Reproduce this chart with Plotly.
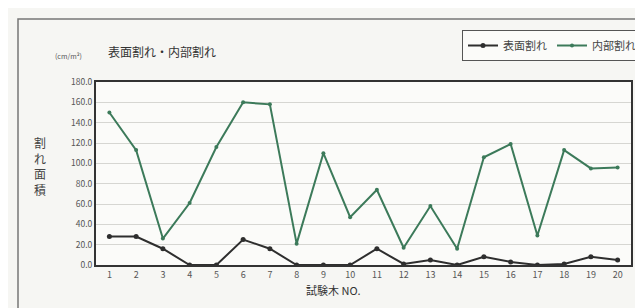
import plotly.graph_objects as go

samples = list(range(1, 21))
x_labels = [str(i) for i in samples]
surface = [28, 28, 16, 0, 0, 25, 16, 0, 0, 0, 16, 1, 5, 0, 8, 3, 0, 1, 8, 5]
internal = [150, 113, 26, 61, 116, 160, 158, 21, 110, 47, 74, 17, 58, 16, 106, 119, 29, 113, 95, 96]
y_ticks = [0, 20, 40, 60, 80, 100, 120, 140, 160, 180]

font_family = "Noto Sans CJK JP, Noto Sans, sans-serif"

fig = go.Figure()
fig.add_trace(go.Scatter(
    x=samples, y=surface, name="表面割れ", mode="lines+markers",
    line=dict(color="#2e2e2e", width=2), marker=dict(size=5, color="#2e2e2e"),
))
fig.add_trace(go.Scatter(
    x=samples, y=internal, name="内部割れ", mode="lines+markers",
    line=dict(color="#3c7a5a", width=2), marker=dict(size=4, color="#3c7a5a"),
))

fig.update_layout(
    width=643, height=308,
    margin=dict(l=88, r=20, t=74, b=51),
    paper_bgcolor="#f6f6f3", plot_bgcolor="#fbfbf9",
    font=dict(family=font_family, size=9, color="#444"),
    showlegend=True,
    legend=dict(
        orientation="h", x=634 / 643, y=1 - 22 / 308, xref="container", yref="container",
        xanchor="right", yanchor="top",
        bordercolor="#555", borderwidth=1, bgcolor="#fbfbf9",
        font=dict(size=11, color="#444"),
        itemwidth=30,
    ),
    title=dict(
        text="表面割れ・内部割れ", x=100 / 643, xanchor="left",
        y=1 - 45 / 308, yanchor="middle", font=dict(size=12, color="#333"),
    ),
    xaxis=dict(
        tickmode="array", tickvals=samples, ticktext=x_labels,
        range=[0.5, 20.5], showgrid=False, showline=True, linecolor="#333",
        linewidth=2, mirror=True, ticks="", tickfont=dict(size=9, color="#555"),
        zeroline=False,
    ),
    yaxis=dict(
        tickmode="array", tickvals=y_ticks, ticktext=[f"{v:.1f}" for v in y_ticks],
        range=[0, 180], showgrid=True, gridcolor="#d6d6d2", gridwidth=1,
        showline=True, linecolor="#333", linewidth=2, mirror=True,
        ticks="", tickfont=dict(size=8.5, color="#555"), zeroline=False,
    ),
    shapes=[dict(
        type="rect", xref="paper", yref="paper",
        x0=-78 / 535, x1=1 + 14 / 535, y0=-45 / 183, y1=1 + 63 / 183,
        line=dict(color="#777", width=1.5), fillcolor="rgba(0,0,0,0)", layer="below",
    )],
    annotations=[
        dict(text="割<br>れ<br>面<br>積", x=32, y=158, xref="paper", yref="paper",
             showarrow=False, font=dict(size=12, color="#444"), xanchor="center", yanchor="middle"),
        dict(text="(cm/m²)", x=60, y=48, showarrow=False,
             font=dict(size=7, color="#555"), xanchor="center", yanchor="middle"),
        dict(text="試験木 NO.", x=325, y=282, showarrow=False,
             font=dict(size=11, color="#333"), xanchor="center", yanchor="middle"),
    ],
)

# convert pixel-positioned annotations to paper coordinates
pw, ph = 643 - 88 - 20, 308 - 74 - 51
for a in fig.layout.annotations:
    px, py = a.x, a.y
    a.x = (px - 88) / pw
    a.y = 1 - (py - 74) / ph
    a.xref = "paper"
    a.yref = "paper"

fig.write_html("out.html")
